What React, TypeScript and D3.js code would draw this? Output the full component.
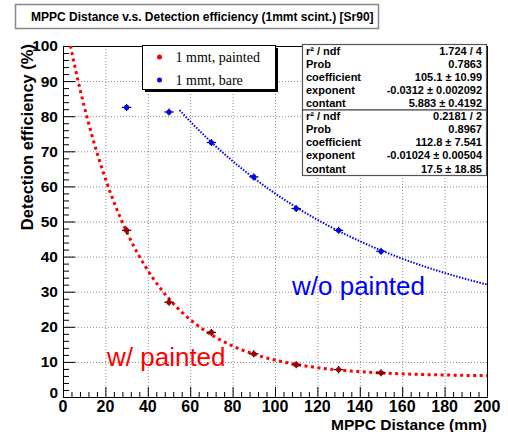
import React, { useEffect, useRef } from 'react';
import * as d3 from 'd3';

// measured points
const distances = [30, 50, 70, 90, 110, 130, 150];
const paintedEff = [47.5, 27.0, 18.4, 12.3, 9.2, 7.8, 6.9];
const bareEff = [82.5, 81.2, 72.5, 62.7, 53.7, 47.5, 41.5];
const xErr = 2.2;
const yErr = 1.0;

// fit results shown in the stats boxes: coef * exp(expo * x) + const
const paintedFit = { coef: 105.1, expo: -0.0312, cst: 5.883, from: 0, to: 200 };
const bareFit = { coef: 112.8, expo: -0.01024, cst: 17.5, from: 55, to: 200 };

const statsPainted = [
  ['r² / ndf', '1.724 / 4'],
  ['Prob', '0.7863'],
  ['coefficient', '105.1 ± 10.99'],
  ['exponent', '-0.0312 ± 0.002092'],
  ['contant', '5.883 ± 0.4192'],
];
const statsBare = [
  ['r² / ndf', '0.2181 / 2'],
  ['Prob', '0.8967'],
  ['coefficient', '112.8 ± 7.541'],
  ['exponent', '-0.01024 ± 0.00504'],
  ['contant', '17.5 ± 18.85'],
];

const xTicks = d3.range(0, 201, 20);
const yTicks = d3.range(0, 101, 10);

const App = () => {
  const ref = useRef<SVGSVGElement>(null);

  useEffect(() => {
    const svg = d3.select(ref.current);
    svg.selectAll('*').remove();

    const width = 508;
    const height = 432;
    const margin = { top: 46, right: 21, bottom: 35, left: 63 };
    const innerWidth = width - margin.left - margin.right;
    const innerHeight = height - margin.top - margin.bottom;
    const sans = "'Liberation Sans', Arial, sans-serif";

    svg.attr('width', width).attr('height', height);
    svg.append('rect').attr('width', width).attr('height', height).attr('fill', '#fff');

    const x = d3.scaleLinear().domain([0, 200]).range([0, innerWidth]);
    const y = d3.scaleLinear().domain([0, 100]).range([innerHeight, 0]);

    svg.append('defs').append('clipPath').attr('id', 'plotclip')
      .append('rect').attr('width', innerWidth).attr('height', innerHeight);

    const chart = svg.append('g')
      .attr('transform', `translate(${margin.left},${margin.top})`);

    // grid
    const grid = chart.append('g')
      .attr('stroke', '#8a8a8a').attr('stroke-width', 1).attr('stroke-dasharray', '1,2');
    grid.selectAll('line.gx').data(xTicks.filter(t => t > 0 && t < 200)).enter().append('line')
      .attr('x1', d => x(d) + 0.5).attr('x2', d => x(d) + 0.5)
      .attr('y1', 0).attr('y2', innerHeight);
    grid.selectAll('line.gy').data(yTicks.filter(t => t > 0 && t < 100)).enter().append('line')
      .attr('y1', d => y(d) + 0.5).attr('y2', d => y(d) + 0.5)
      .attr('x1', 0).attr('x2', innerWidth);

    // frame
    chart.append('rect')
      .attr('x', 0.5).attr('y', 0.5)
      .attr('width', innerWidth).attr('height', innerHeight)
      .attr('fill', 'none').attr('stroke', '#000');

    // ticks (inside, ROOT style)
    const axisG = chart.append('g').attr('stroke', '#000').attr('stroke-width', 1);
    axisG.selectAll('line.tx').data(d3.range(0, 201, 4)).enter().append('line')
      .attr('x1', d => x(d) + 0.5).attr('x2', d => x(d) + 0.5)
      .attr('y1', innerHeight)
      .attr('y2', d => innerHeight - (d % 20 === 0 ? 10 : 5));
    axisG.selectAll('line.ty').data(d3.range(0, 101, 2)).enter().append('line')
      .attr('y1', d => y(d) + 0.5).attr('y2', d => y(d) + 0.5)
      .attr('x1', 0)
      .attr('x2', d => (d % 10 === 0 ? 12 : 6));

    // tick labels
    chart.selectAll('text.xl').data(xTicks).enter().append('text')
      .attr('x', d => x(d)).attr('y', innerHeight + 14.5)
      .attr('text-anchor', 'middle')
      .attr('font-family', sans).attr('font-weight', 'bold').attr('font-size', 16)
      .text(d => d);
    chart.selectAll('text.yl').data(yTicks).enter().append('text')
      .attr('x', -5).attr('y', d => y(d) + (d === 0 ? -4 : 0))
      .attr('dy', '0.35em')
      .attr('text-anchor', 'end')
      .attr('font-family', sans).attr('font-weight', 'bold').attr('font-size', 15.5)
      .text(d => d);

    // axis titles
    svg.append('text')
      .attr('x', margin.left + innerWidth).attr('y', 430)
      .attr('text-anchor', 'end')
      .attr('font-family', sans).attr('font-weight', 'bold').attr('font-size', 15.5)
      .text('MPPC Distance (mm)');
    svg.append('text')
      .attr('transform', 'translate(33,44) rotate(-90)')
      .attr('text-anchor', 'end')
      .attr('font-family', sans).attr('font-weight', 'bold').attr('font-size', 16.5)
      .text('Detection efficiency (%)');

    // fit curves
    const curve = (f: typeof paintedFit) =>
      d3.range(f.from, f.to + 0.001, 1).map(v => [v, f.coef * Math.exp(f.expo * v) + f.cst]);
    const line = d3.line<number[]>().x(d => x(d[0])).y(d => y(d[1]));
    const curves = chart.append('g').attr('clip-path', 'url(#plotclip)');
    curves.append('path')
      .attr('d', line(curve(paintedFit)))
      .attr('fill', 'none').attr('stroke', '#ff0000')
      .attr('stroke-width', 3).attr('stroke-dasharray', '3,3.5');
    curves.append('path')
      .attr('d', line(curve(bareFit)))
      .attr('fill', 'none').attr('stroke', '#0000ff')
      .attr('stroke-width', 2).attr('stroke-dasharray', '1.5,1.5');

    // points with error bars
    const drawPoints = (vals: number[], color: string) => {
      const g = chart.append('g');
      const pts = distances.map((d, i) => [d, vals[i]]);
      g.selectAll('line.ex').data(pts).enter().append('line')
        .attr('x1', d => x(d[0] - xErr)).attr('x2', d => x(d[0] + xErr))
        .attr('y1', d => y(d[1])).attr('y2', d => y(d[1]))
        .attr('stroke', '#000').attr('stroke-width', 1.2);
      g.selectAll('line.ey').data(pts).enter().append('line')
        .attr('x1', d => x(d[0])).attr('x2', d => x(d[0]))
        .attr('y1', d => y(d[1] - yErr)).attr('y2', d => y(d[1] + yErr))
        .attr('stroke', '#000').attr('stroke-width', 1.2);
      g.selectAll('circle').data(pts).enter().append('circle')
        .attr('cx', d => x(d[0])).attr('cy', d => y(d[1]))
        .attr('r', 2.6).attr('fill', color);
    };
    drawPoints(paintedEff, '#a00000');
    drawPoints(bareEff, '#0000ff');

    // annotations
    svg.append('text')
      .attr('x', 107).attr('y', 366)
      .attr('font-family', sans).attr('font-size', 26).attr('fill', '#ff0000')
      .text('w/ painted');
    svg.append('text')
      .attr('x', 292).attr('y', 295)
      .attr('font-family', sans).attr('font-size', 26).attr('fill', '#0000ff')
      .text('w/o painted');

    // legend
    const lg = svg.append('g');
    lg.append('rect').attr('x', 145).attr('y', 48).attr('width', 133).attr('height', 44).attr('fill', '#000');
    lg.append('rect').attr('x', 142.5).attr('y', 45.5).attr('width', 133).attr('height', 44)
      .attr('fill', '#fff').attr('stroke', '#000');
    const legendItems = [
      { label: '1 mmt, painted', color: '#ff0000' },
      { label: '1 mmt, bare', color: '#0000ff' },
    ];
    legendItems.forEach((it, i) => {
      lg.append('circle').attr('cx', 159.5).attr('cy', 57 + i * 23).attr('r', 2.5).attr('fill', it.color);
      lg.append('text')
        .attr('x', 175.5).attr('y', 62 + i * 23)
        .attr('font-family', "'Liberation Serif', 'Times New Roman', serif").attr('font-size', 14)
        .text(it.label);
    });

    // stats boxes
    const drawStats = (rows: string[][], top: number, h: number) => {
      const g = svg.append('g');
      g.append('rect').attr('x', 302.5).attr('y', top + 0.5).attr('width', 184).attr('height', h)
        .attr('fill', '#fff').attr('stroke', '#555').attr('stroke-width', 1.2);
      const rowH = h / rows.length;
      rows.forEach((r, i) => {
        const by = top + rowH * i + rowH - 2.5;
        g.append('text').attr('x', 306).attr('y', by)
          .attr('font-family', sans).attr('font-weight', 'bold').attr('font-size', 11)
          .text(r[0]);
        g.append('text').attr('x', 482).attr('y', by).attr('text-anchor', 'end')
          .attr('font-family', sans).attr('font-weight', 'bold').attr('font-size', 11)
          .text(r[1]);
      });
    };
    drawStats(statsPainted, 44, 65.5);
    drawStats(statsBare, 109.5, 65.5);

    // title box
    svg.append('rect').attr('x', 15.5).attr('y', 4.5).attr('width', 363).attr('height', 24)
      .attr('fill', '#fff').attr('stroke', '#888').attr('stroke-width', 1.5);
    svg.append('text')
      .attr('x', 31).attr('y', 21)
      .attr('font-family', sans).attr('font-weight', 'bold').attr('font-size', 12)
      .text('MPPC Distance v.s. Detection efficiency (1mmt scint.) [Sr90]');
  }, []);

  return <svg ref={ref} style={{ position: 'absolute', left: 0, top: 0 }}></svg>;
};

export default App;
